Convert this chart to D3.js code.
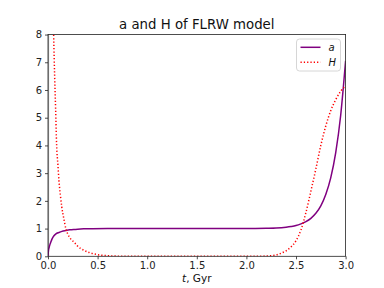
<!DOCTYPE html>
<html>
<head>
<meta charset="utf-8">
<script src="https://cdn.jsdelivr.net/npm/d3@7"></script>
<style>
  body { margin: 0; background: #fff; }
  svg { display: block; font-family: "DejaVu Sans", sans-serif; }
</style>
</head>
<body>
<svg id="base" width="384" height="288"></svg>
<script>
// scale factor a(t)
const aTimes = [0, 0.005, 0.01, 0.02, 0.027, 0.04, 0.06, 0.08, 0.11, 0.14, 0.18, 0.22, 0.26, 0.3, 0.36, 0.45, 0.6, 1.0, 1.5, 2.0, 2.2, 2.3, 2.4, 2.45, 2.5, 2.55, 2.6, 2.65, 2.7, 2.75, 2.8, 2.85, 2.9, 2.95, 3.0];
const aValues = [0, 0.22, 0.3, 0.43, 0.5, 0.62, 0.74, 0.81, 0.86, 0.9, 0.93, 0.955, 0.97, 0.98, 0.99, 0.997, 1.0, 1.0, 1.0, 1.0, 1.01, 1.02, 1.05, 1.075, 1.11, 1.17, 1.25, 1.37, 1.55, 1.82, 2.23, 2.83, 3.73, 5.07, 7.05];

// Hubble parameter H(t)
const hTimes = [0.045, 0.057, 0.067, 0.077, 0.087, 0.1, 0.11, 0.125, 0.138, 0.16, 0.18, 0.2, 0.23, 0.26, 0.3, 0.36, 0.42, 0.5, 0.6, 0.7, 0.8, 2.0, 2.1, 2.2, 2.3, 2.35, 2.4, 2.45, 2.5, 2.55, 2.6, 2.65, 2.7, 2.75, 2.8, 2.85, 2.9, 2.95, 3.0];
const hValues = [10.5, 8.0, 6.5, 5.3, 4.0, 3.3, 2.75, 2.2, 1.8, 1.35, 1.0, 0.8, 0.62, 0.52, 0.36, 0.22, 0.13, 0.06, 0.02, 0.005, 0, 0, 0, 0.01, 0.05, 0.11, 0.2, 0.34, 0.56, 0.95, 1.58, 2.35, 3.15, 4.0, 4.7, 5.25, 5.65, 5.95, 6.15];

const xTicks = [0, 0.5, 1.0, 1.5, 2.0, 2.5, 3.0];
const yTicks = [0, 1, 2, 3, 4, 5, 6, 7, 8];

const series = [
    { name: "a", t: aTimes, v: aValues, color: "#800080", dash: null },
    { name: "H", t: hTimes, v: hValues, color: "#ff0000", dash: "1.25,2.06" },
];

const width = 384, height = 288;
const margin = { left: 48, right: 38.4, top: 34.56, bottom: 31.7 };

const svg = d3.select("#base");

const x = d3.scaleLinear().domain([0, 3]).range([margin.left, width - margin.right]);
const y = d3.scaleLinear().domain([0, 8]).range([height - margin.bottom, margin.top]);

svg.append("defs").append("clipPath").attr("id", "plotclip")
    .append("rect")
    .attr("x", x(0)).attr("y", y(8))
    .attr("width", x(3) - x(0)).attr("height", y(0) - y(8));

const plot = svg.append("g").attr("clip-path", "url(#plotclip)");

// grey line along t = 0
plot.append("line")
    .attr("x1", x(0)).attr("x2", x(0))
    .attr("y1", y(0)).attr("y2", y(8))
    .attr("stroke", "#a0a0a0")
    .attr("stroke-width", 2.2);

const line = d3.line()
    .x((d) => x(d[0]))
    .y((d) => y(d[1]))
    .curve(d3.curveMonotoneX);

series.forEach((s) => {
    plot.append("path")
        .datum(s.t.map((t, i) => [t, s.v[i]]))
        .attr("d", line)
        .attr("fill", "none")
        .attr("stroke", s.color)
        .attr("stroke-width", 1.5)
        .attr("stroke-dasharray", s.dash);
});

// axes
const xAxis = d3.axisBottom(x).tickValues(xTicks).tickFormat(d3.format(".1f")).tickSize(3).tickPadding(3);
const yAxis = d3.axisLeft(y).tickValues(yTicks).tickFormat(d3.format("d")).tickSize(3).tickPadding(3);

const gx = svg.append("g").attr("transform", `translate(0,${y(0)})`).call(xAxis);
const gy = svg.append("g").attr("transform", `translate(${x(0)},0)`).call(yAxis);

[gx, gy].forEach((g) => {
    g.select(".domain").remove();
    g.selectAll("line").attr("stroke", "#222").attr("stroke-width", 0.8);
    g.selectAll("text").attr("fill", "#222").attr("font-size", 10)
        .attr("font-family", "DejaVu Sans");
});

// frame
svg.append("rect")
    .attr("x", x(0)).attr("y", y(8))
    .attr("width", x(3) - x(0)).attr("height", y(0) - y(8))
    .attr("fill", "none")
    .attr("stroke", "#222")
    .attr("stroke-width", 0.8);

// title and label
svg.append("text")
    .attr("x", (x(0) + x(3)) / 2).attr("y", 29)
    .attr("text-anchor", "middle")
    .attr("font-size", 13.3)
    .attr("fill", "#111")
    .text("a and H of FLRW model");

const xl = svg.append("text")
    .attr("x", (x(0) + x(3)) / 2).attr("y", 281.5)
    .attr("text-anchor", "middle")
    .attr("font-size", 10.5)
    .attr("fill", "#111");
xl.append("tspan").attr("font-style", "italic").text("t");
xl.append("tspan").text(", Gyr");

// legend
const legend = svg.append("g").attr("id", "legend");
legend.append("rect")
    .attr("x", 296.5).attr("y", 39)
    .attr("width", 44).attr("height", 32)
    .attr("rx", 3)
    .attr("fill", "#fff").attr("fill-opacity", 0.8)
    .attr("stroke", "#cccccc").attr("stroke-width", 0.8);

series.forEach((s, i) => {
    const cy = 47.3 + i * 15;
    legend.append("line")
        .attr("x1", 300.5).attr("x2", 320.5)
        .attr("y1", cy).attr("y2", cy)
        .attr("stroke", s.color)
        .attr("stroke-width", 1.5)
        .attr("stroke-dasharray", s.dash);
    legend.append("text")
        .attr("x", 328.5).attr("y", cy + 3.6)
        .attr("font-size", 10)
        .attr("font-style", "italic")
        .attr("fill", "#111")
        .text(s.name);
});
</script>
</body>
</html>
